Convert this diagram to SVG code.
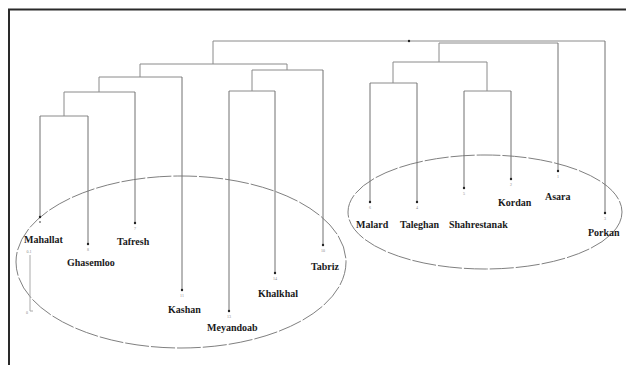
<svg xmlns="http://www.w3.org/2000/svg" width="626" height="365" viewBox="0 0 626 365">
<style>
.br{fill:none;stroke:#8a8a8a;stroke-width:1}
.lf{fill:none;stroke:#707070;stroke-width:1}
.dot{fill:#222}
.lb{font-family:"Liberation Serif","Times New Roman",serif;font-weight:bold;font-size:10px;fill:#1a1a1a}
.nm{font-family:"Liberation Serif","Times New Roman",serif;font-size:4px;fill:#888;text-anchor:middle}
.el{fill:none;stroke:#808080;stroke-width:1;stroke-dasharray:24 2}
</style>
<rect width="626" height="365" fill="#fff"/>
<path d="M9 365V9.5H626" fill="none" stroke="#2a2a2a" stroke-width="2"/>
<g id="ellipses">
<ellipse class="el" cx="181" cy="262" rx="165" ry="86"/>
<ellipse class="el" cx="485" cy="212" rx="137" ry="57"/>
</g>
<g id="connectors">
<path class="br" d="M213 64V41H605M439 62V43H558"/>
<path class="br" d="M140 77V64H287V70"/>
<path class="br" d="M99 92V77H182"/>
<path class="br" d="M64 116V92H135"/>
<path class="br" d="M40 116H88"/>
<path class="br" d="M252 91V70H323"/>
<path class="br" d="M229 91H275"/>
<path class="br" d="M393 83V62H487V91"/>
<path class="br" d="M370 83H417"/>
<path class="br" d="M464 91H511"/>
<circle class="dot" cx="409" cy="41" r="1.2"/>
</g>
<g id="scale">
<path d="M30 255V311H33" fill="none" stroke="#aaa" stroke-width="1"/>
<text class="nm" x="29" y="253">0.1</text>
<text class="nm" x="27" y="314">0</text>
</g>
<g id="Mahallat"><path class="lf" d="M40 116V216"/><circle class="dot" cx="40" cy="217" r="1.2"/><circle class="dot" cx="40" cy="222" r="0.8"/><text class="lb" x="24" y="243">Mahallat</text></g>
<g id="Ghasemloo"><path class="lf" d="M88 116V243"/><circle class="dot" cx="88" cy="244" r="1.2"/><text class="nm" x="88" y="251">8</text><text class="lb" x="67" y="266">Ghasemloo</text></g>
<g id="Tafresh"><path class="lf" d="M135 92V222"/><circle class="dot" cx="135" cy="223" r="1.2"/><text class="nm" x="135" y="230">7</text><text class="lb" x="117" y="245">Tafresh</text></g>
<g id="Kashan"><path class="lf" d="M182 77V289"/><circle class="dot" cx="182" cy="290" r="1.2"/><text class="nm" x="182" y="297">11</text><text class="lb" x="168" y="313">Kashan</text></g>
<g id="Meyandoab"><path class="lf" d="M229 91V310"/><circle class="dot" cx="229" cy="311" r="1.2"/><text class="nm" x="229" y="318">13</text><text class="lb" x="207" y="331">Meyandoab</text></g>
<g id="Khalkhal"><path class="lf" d="M275 91V272"/><circle class="dot" cx="275" cy="273" r="1.2"/><text class="nm" x="275" y="280">14</text><text class="lb" x="258" y="297">Khalkhal</text></g>
<g id="Tabriz"><path class="lf" d="M323 70V244"/><circle class="dot" cx="323" cy="245" r="1.2"/><text class="nm" x="323" y="252">10</text><text class="lb" x="311" y="270">Tabriz</text></g>
<g id="Malard"><path class="lf" d="M370 83V201"/><circle class="dot" cx="370" cy="202" r="1.2"/><text class="nm" x="370" y="209">6</text><text class="lb" x="356" y="228">Malard</text></g>
<g id="Taleghan"><path class="lf" d="M417 83V201"/><circle class="dot" cx="417" cy="202" r="1.2"/><text class="nm" x="417" y="209">4</text><text class="lb" x="400" y="228">Taleghan</text></g>
<g id="Shahrestanak"><path class="lf" d="M464 91V187"/><circle class="dot" cx="464" cy="188" r="1.2"/><text class="nm" x="464" y="195">5</text><text class="lb" x="449" y="228">Shahrestanak</text></g>
<g id="Kordan"><path class="lf" d="M511 91V178"/><circle class="dot" cx="511" cy="179" r="1.2"/><text class="nm" x="511" y="186">2</text><text class="lb" x="498" y="206">Kordan</text></g>
<g id="Asara"><path class="lf" d="M558 43V170"/><circle class="dot" cx="558" cy="171" r="1.2"/><text class="nm" x="558" y="178">1</text><text class="lb" x="545" y="200">Asara</text></g>
<g id="Porkan"><path class="lf" d="M605 41V212"/><circle class="dot" cx="605" cy="213" r="1.2"/><text class="nm" x="605" y="220">3</text><text class="lb" x="588" y="236">Porkan</text></g>
</svg>
